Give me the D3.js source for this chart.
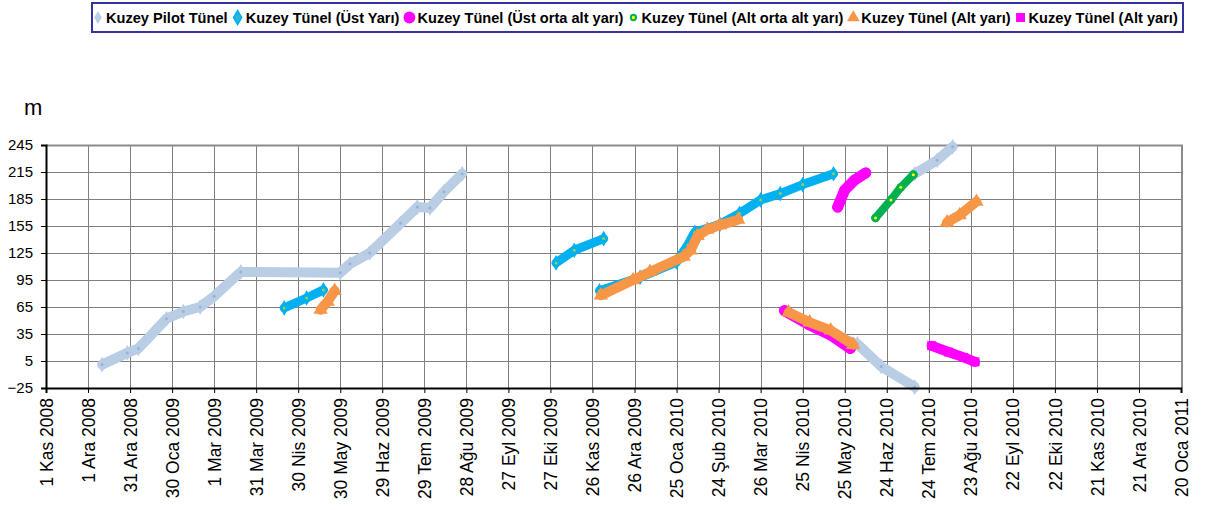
<!DOCTYPE html>
<html>
<head>
<meta charset="utf-8">
<script src="https://cdn.jsdelivr.net/npm/d3@7"></script>
<style>
  body { margin: 0; background: #fff; }
  text { font-family: "Liberation Sans", Arial, sans-serif; }
</style>
</head>
<body>
<script>
var width = 1212, height = 510;
var margin = {top: 145, right: 30, bottom: 122, left: 46};

// tick dates on the x axis (every 30 days)
var xTicks = ["2008-11-01","2008-12-01","2008-12-31","2009-01-30","2009-03-01","2009-03-31",
  "2009-04-30","2009-05-30","2009-06-29","2009-07-29","2009-08-28","2009-09-27","2009-10-27",
  "2009-11-26","2009-12-26","2010-01-25","2010-02-24","2010-03-26","2010-04-25","2010-05-25",
  "2010-06-24","2010-07-24","2010-08-23","2010-09-22","2010-10-22","2010-11-21","2010-12-21",
  "2011-01-20"];
var months = ["Oca","Şub","Mar","Nis","May","Haz","Tem","Ağu","Eyl","Eki","Kas","Ara"];
var yTicks = [-25, 5, 35, 65, 95, 125, 155, 185, 215, 245];

// series, null = break between groups of points
var pilot = [["2008-12-11",1],["2008-12-29",14],["2009-01-06",19],["2009-01-26",52],
  ["2009-02-07",60],["2009-02-19",65],["2009-03-01",77],["2009-03-20",104],["2009-05-30",103],
  ["2009-06-06",113],["2009-06-20",125],["2009-07-12",158],["2009-07-24",176],["2009-08-02",175],
  ["2009-08-12",193],["2009-08-25",213], null,
  ["2010-05-25",29],["2010-06-03",24],["2010-06-20",-1],["2010-07-14",-24], null,
  ["2010-07-14",213],["2010-07-30",228],["2010-08-10",243]];
var ustYari = [["2009-04-20",64],["2009-05-06",75],["2009-05-18",84], null,
  ["2009-10-31",114],["2009-11-13",128],["2009-12-04",141], null,
  ["2009-12-01",83],["2009-12-30",98],["2010-01-25",115],["2010-02-02",134],["2010-02-07",148],
  ["2010-02-25",157],["2010-03-11",169],["2010-03-26",184],["2010-04-09",191],["2010-04-25",201],
  ["2010-05-17",213]];
var ustOrtaAlt = [["2010-05-20",176],["2010-05-25",195],["2010-06-01",206],["2010-06-09",214], null,
  ["2010-04-12",61],["2010-04-30",45],["2010-05-15",34],["2010-05-29",19]];
var altOrtaAlt = [["2010-06-16",164],["2010-06-27",184],["2010-07-04",198],["2010-07-13",212]];
var altYari = [["2009-05-16",62],["2009-05-21",71],["2009-05-26",83], null,
  ["2009-12-02",78],["2009-12-25",95],["2010-01-06",104],["2010-01-30",121],["2010-02-04",128],
  ["2010-02-09",144],["2010-02-16",151],["2010-02-25",156],["2010-03-10",162], null,
  ["2010-04-15",59],["2010-04-30",48],["2010-05-15",39],["2010-05-31",23], null,
  ["2010-08-06",159],["2010-08-15",167],["2010-08-27",182]];
var altYari2 = [["2010-07-26",22],["2010-08-07",15],["2010-08-18",9],["2010-08-26",4]];

var series = [
  {name: "Kuzey Pilot Tünel", data: pilot, color: "#B9CDE5", band: 10, sym: d3.symbolDiamond, size: 70, dot: "#95B3D7"},
  {name: "Kuzey Tünel (Üst Yarı)", data: ustYari, color: "#00B0F0", band: 9, sym: d3.symbolDiamond, size: 70, dot: "#92D050"},
  {name: "Kuzey Tünel (Üst orta alt yarı)", data: ustOrtaAlt, color: "#FF00FF", band: 11, sym: d3.symbolCircle, size: 90},
  {name: "Kuzey Tünel (Alt orta alt yarı)", data: altOrtaAlt, color: "#00B050", band: 8, sym: d3.symbolCircle, size: 60, dot: "#FFFF00"},
  {name: "Kuzey Tünel (Alt yarı)", data: altYari, color: "#F79646", band: 10, sym: d3.symbolTriangle, size: 90},
  {name: "Kuzey Tünel (Alt yarı)", data: altYari2, color: "#FF00FF", band: 10, sym: d3.symbolSquare, size: 80}
];

var parse = d3.utcParse("%Y-%m-%d");

var svg = d3.select("body").append("svg")
  .attr("width", width)
  .attr("height", height);

var x = d3.scaleUtc()
  .domain([parse(xTicks[0]), parse(xTicks[xTicks.length - 1])])
  .range([margin.left, 1181]);
var y = d3.scaleLinear().domain([-25, 245]).range([388, margin.top]);

// grid
svg.append("g").selectAll("line").data(yTicks.slice(1))
  .enter().append("line")
  .attr("x1", margin.left).attr("x2", 1181)
  .attr("y1", function(d) { return Math.round(y(d)) + 0.5; })
  .attr("y2", function(d) { return Math.round(y(d)) + 0.5; })
  .attr("stroke", "#7f7f7f");
svg.append("g").selectAll("line").data(xTicks.slice(1))
  .enter().append("line")
  .attr("x1", function(d) { return Math.round(x(parse(d))) + 0.5; })
  .attr("x2", function(d) { return Math.round(x(parse(d))) + 0.5; })
  .attr("y1", margin.top).attr("y2", 388)
  .attr("stroke", "#7f7f7f");

// frame top / right
svg.append("path")
  .attr("d", "M" + margin.left + "," + (margin.top + 0.5) + "H1182V388")
  .attr("fill", "none").attr("stroke", "#8c8c8c").attr("stroke-width", 2);

// series
var line = d3.line()
  .defined(function(d) { return d !== null; })
  .x(function(d) { return x(parse(d[0])); })
  .y(function(d) { return y(d[1]); });

var plot = svg.append("g");
series.forEach(function(s) {
  var g = plot.append("g");
  g.append("path")
    .attr("d", line(s.data))
    .attr("fill", "none")
    .attr("stroke", s.color)
    .attr("stroke-width", s.band)
    .attr("stroke-linejoin", "round")
    .attr("stroke-linecap", "round");
  var pts = s.data.filter(function(d) { return d !== null; });
  g.selectAll(".m").data(pts).enter().append("path")
    .attr("transform", function(d) { return "translate(" + x(parse(d[0])) + "," + y(d[1]) + ")"; })
    .attr("d", d3.symbol().type(s.sym).size(s.size))
    .attr("fill", s.color);
  if (s.dot) {
    g.selectAll(".d").data(pts).enter().append("circle")
      .attr("cx", function(d) { return x(parse(d[0])); })
      .attr("cy", function(d) { return y(d[1]); })
      .attr("r", 1.5)
      .attr("fill", s.dot);
  }
});

// axes
var yAxis = d3.axisLeft(y).tickValues(yTicks).tickSize(5).tickPadding(8);
var gy = svg.append("g").attr("transform", "translate(" + margin.left + ",0)").call(yAxis);
gy.select(".domain").attr("stroke", "#000").attr("stroke-width", 2);
gy.selectAll(".tick line").attr("stroke", "#000");
gy.selectAll("text").attr("font-size", 15).attr("fill", "#000")
  .style("font-family", "'Liberation Sans', Arial, sans-serif");

var xAxis = d3.axisBottom(x)
  .tickValues(xTicks.map(parse))
  .tickSize(5)
  .tickFormat(function(d) { return d.getUTCDate() + " " + months[d.getUTCMonth()] + " " + d.getUTCFullYear(); });
var gx = svg.append("g").attr("transform", "translate(0,388)").call(xAxis);
gx.select(".domain").attr("stroke", "#000").attr("stroke-width", 2);
gx.selectAll(".tick line").attr("stroke", "#000");
gx.selectAll("text")
  .attr("font-size", 17.5).attr("fill", "#000")
  .style("font-family", "'Liberation Sans', Arial, sans-serif")
  .attr("text-anchor", "end")
  .attr("transform", "rotate(-90)")
  .attr("x", -10).attr("y", 0).attr("dy", "0.35em");

// unit label
svg.append("text").attr("x", 24).attr("y", 115)
  .attr("font-size", 22).text("m");

// legend
var lg = svg.append("g");
lg.append("rect").attr("x", 92).attr("y", 3).attr("width", 1091).attr("height", 29)
  .attr("fill", "#fff").attr("stroke", "#3333a0").attr("stroke-width", 2);
var lx = 98;
series.forEach(function(s, i) {
  var isCircle = s.sym === d3.symbolCircle;
  var sz = 50;
  if (s.sym === d3.symbolTriangle) sz = 70;
  if (s.sym === d3.symbolSquare) sz = 80;
  if (isCircle) sz = s.dot ? 22 : 110;
  var fill = s.color, stroke = "none";
  if (isCircle && s.dot) { fill = "#FFFF00"; stroke = s.color; }
  if (i === 1) { fill = "#31B6D6"; stroke = "#00B0F0"; }
  lg.append("path")
    .attr("transform", "translate(" + lx + ",17.5)")
    .attr("d", d3.symbol().type(s.sym).size(sz))
    .attr("fill", fill)
    .attr("stroke", stroke)
    .attr("stroke-width", 2);
  var t = lg.append("text").attr("x", lx + 8).attr("y", 23)
    .attr("font-size", 14.6).attr("font-weight", "bold").text(s.name);
  lx += 8 + t.node().getComputedTextLength() + 10;
});
</script>
</body>
</html>
